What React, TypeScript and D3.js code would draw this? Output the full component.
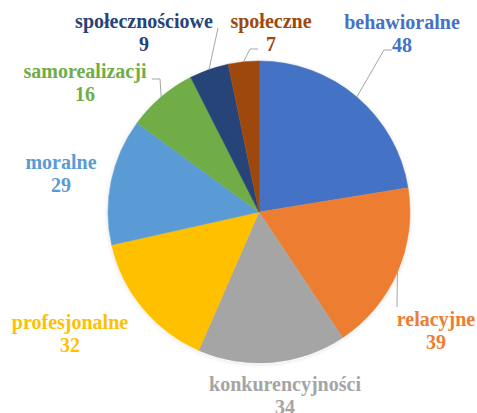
import * as d3 from 'd3'

// Slice data (clockwise from 12 o'clock)
const categories = [
  'behawioralne',
  'relacyjne',
  'konkurencyjności',
  'profesjonalne',
  'moralne',
  'samorealizacji',
  'społecznościowe',
  'społeczne',
]
const values = [48, 39, 34, 32, 29, 16, 9, 7]
const colors = ['#4472C4', '#ED7D31', '#A5A5A5', '#FFC000', '#5B9BD5', '#70AD47', '#264478', '#9E480E']

// Label placement (text centre x, first baseline y) – hand placed like Excel
const labelPos: [number, number][] = [
  [402, 29],
  [436, 326],
  [285, 391],
  [70, 329],
  [61, 169],
  [85, 78],
  [144, 28],
  [271, 28],
]
// Leader line elbow + tail end (null = no leader line)
const leaders: ([number, number, number, number] | null)[] = [
  [384, 50, 392, 50],
  [397, 307, 397, 307],
  null,
  null,
  null,
  [160, 79, 152, 79],
  [218, 28, 218, 28],
  [250, 49, 258, 49],
]

const W = 477
const H = 413
const cx = 259
const cy = 212
const r = 151
const LINE = 23

export default function App() {
  const pie = d3.pie<number>().sort(null).value(d => d)
  const arcs = pie(values)
  const arc = d3.arc<d3.PieArcDatum<number>>().innerRadius(0).outerRadius(r)

  // faint rings for the soft Office shadow
  const shadowRings = [1, 2, 3, 4]

  return (
    <svg width={W} height={H} style={{ position: 'absolute', left: 0, top: 0 }}>
      <style>{`text { font-family: 'Liberation Serif', 'Times New Roman', serif; font-weight: bold; font-size: 20px; }`}</style>

      {shadowRings.map(k => (
        <circle key={'s' + k} cx={cx} cy={cy + 1} r={r + k - 0.5} fill="none"
          stroke="#000" strokeOpacity={0.07 - k * 0.014} strokeWidth={1} />
      ))}

      {arcs.map((a, i) => (
        <path key={'p' + i} transform={`translate(${cx},${cy})`} d={arc(a) ?? ''}
          fill={colors[i]} stroke={colors[i]} strokeWidth={0.5} />
      ))}

      {/* leader lines from slice edge (mid angle) to label */}
      {arcs.map((a, i) => {
        const ld = leaders[i]
        if (!ld) return null
        const mid = (a.startAngle + a.endAngle) / 2
        const sx = cx + r * Math.sin(mid)
        const sy = cy - r * Math.cos(mid)
        return (
          <polyline
            key={'l' + i}
            points={`${sx},${sy} ${ld[0]},${ld[1]} ${ld[2]},${ld[3]}`}
            fill="none"
            stroke="#A6A6A6"
            strokeWidth={1}
          />
        )
      })}

      {categories.map((c, i) => (
        <text key={'n' + i} x={labelPos[i][0]} y={labelPos[i][1]} fill={colors[i]} textAnchor="middle"
          fontFamily="Liberation Serif" fontWeight="bold" fontSize={20}>{c}</text>
      ))}
      {values.map((v, i) => (
        <text key={'v' + i} x={labelPos[i][0]} y={labelPos[i][1] + LINE} fill={colors[i]} textAnchor="middle"
          fontFamily="Liberation Serif" fontWeight="bold" fontSize={20}>{v}</text>
      ))}
    </svg>
  )
}
